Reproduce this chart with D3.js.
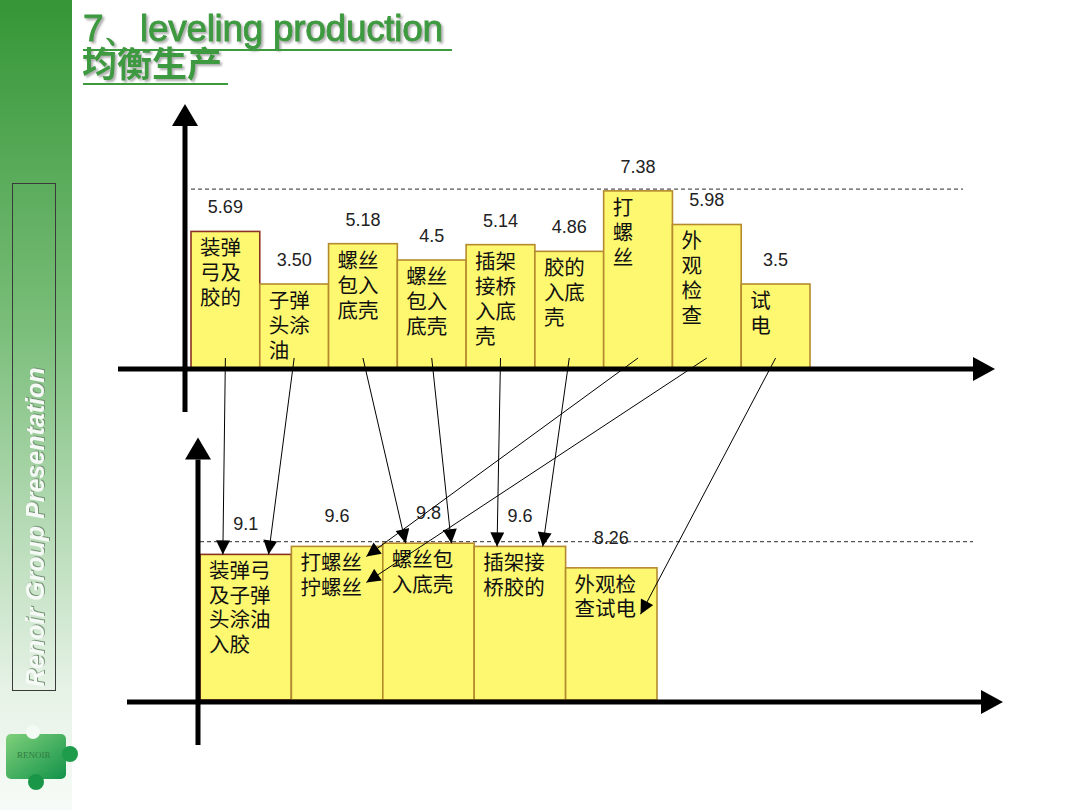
<!DOCTYPE html>
<html>
<head>
<meta charset="utf-8">
<script src="https://cdn.jsdelivr.net/npm/d3@7.9.0/dist/d3.min.js"></script>
<style>
  body { margin: 0; background: #fff; }
  svg { display: block; }
</style>
</head>
<body>
<svg id="chart" width="1080" height="810"></svg>
<script>
// before: one station per step
const topSteps = ['装弹\n弓及\n胶的', '子弹\n头涂\n油', '螺丝\n包入\n底壳', '螺丝\n包入\n底壳', '插架\n接桥\n入底\n壳', '胶的\n入底\n壳', '打\n螺\n丝', '外\n观\n检\n查', '试\n电'];
const topTimes = [5.69, 3.50, 5.18, 4.5, 5.14, 4.86, 7.38, 5.98, 3.5];
const topTimeLabels = ['5.69', '3.50', '5.18', '4.5', '5.14', '4.86', '7.38', '5.98', '3.5'];
const topTakt = 7.45;

// after: merged stations
const bottomSteps = ['装弹弓\n及子弹\n头涂油\n入胶', '打螺丝\n拧螺丝', '螺丝包\n入底壳', '插架接\n桥胶的', '外观检\n查试电'];
const bottomTimes = [9.1, 9.6, 9.8, 9.6, 8.26];
const bottomTimeLabels = ['9.1', '9.6', '9.8', '9.6', '8.26'];
const bottomTakt = 9.9;

// which merged station each old step goes into
const mergeInto = [0, 0, 2, 2, 3, 3, 1, 1, 4];

const svg = d3.select('#chart');
const defs = svg.append('defs');

const side = defs.append('linearGradient').attr('id', 'side').attr('x1', 0).attr('y1', 0).attr('x2', 0).attr('y2', 1);
side.append('stop').attr('offset', '0%').attr('stop-color', '#359636');
side.append('stop').attr('offset', '40%').attr('stop-color', '#79bd79');
side.append('stop').attr('offset', '85%').attr('stop-color', '#e6f2e6');
side.append('stop').attr('offset', '100%').attr('stop-color', '#f7fbf7');

const puzzle = defs.append('linearGradient').attr('id', 'puzzle').attr('x1', 0).attr('y1', 0).attr('x2', 1).attr('y2', 1);
puzzle.append('stop').attr('offset', '0%').attr('stop-color', '#7fd07a');
puzzle.append('stop').attr('offset', '100%').attr('stop-color', '#12924a');

const shadow = defs.append('filter').attr('id', 'shadow').attr('x', '-5%').attr('y', '-20%').attr('width', '115%').attr('height', '150%');
shadow.append('feDropShadow').attr('dx', 2).attr('dy', 2).attr('stdDeviation', 0.8)
  .attr('flood-color', '#9a9a9a').attr('flood-opacity', 0.8);

const sideShadow = defs.append('filter').attr('id', 'sideShadow');
sideShadow.append('feDropShadow').attr('dx', 1).attr('dy', 1).attr('stdDeviation', 0.6)
  .attr('flood-color', '#6f8f6f').attr('flood-opacity', 0.9);

defs.append('marker')
  .attr('id', 'head')
  .attr('viewBox', '0 0 10 10')
  .attr('refX', 10).attr('refY', 5)
  .attr('markerWidth', 15).attr('markerHeight', 14)
  .attr('markerUnits', 'userSpaceOnUse')
  .attr('orient', 'auto')
  .append('path').attr('d', 'M0,0L10,5L0,10Z').attr('fill', '#000');

// left band
svg.append('rect').attr('x', 0).attr('y', 0).attr('width', 72).attr('height', 810).attr('fill', 'url(#side)');
svg.append('rect').attr('x', 12.5).attr('y', 183.5).attr('width', 43).attr('height', 507)
  .attr('fill', 'none').attr('stroke', '#3a3a3a').attr('stroke-width', 1);
svg.append('text')
  .attr('transform', 'translate(44,687) rotate(-90)')
  .attr('font-family', 'Liberation Sans, Arial, sans-serif')
  .attr('font-size', 25).attr('font-style', 'italic').attr('font-weight', 'bold')
  .attr('fill', '#f6faf6').attr('filter', 'url(#sideShadow)')
  .text('Renoir Group Presentation');

const logo = svg.append('g');
logo.append('rect').attr('x', 6).attr('y', 734).attr('width', 60).attr('height', 45).attr('rx', 5).attr('fill', 'url(#puzzle)');
logo.append('circle').attr('cx', 70).attr('cy', 754).attr('r', 8).attr('fill', '#1e9c4c');
logo.append('circle').attr('cx', 36).attr('cy', 782).attr('r', 8).attr('fill', '#1a9648');
logo.append('circle').attr('cx', 33).attr('cy', 732).attr('r', 7).attr('fill', '#f4faf4');
logo.append('text').attr('x', 17).attr('y', 758).attr('font-family', 'Liberation Serif, serif')
  .attr('font-size', 9).attr('fill', '#2f7d3f').text('RENOIR');

// title
const title = svg.append('g').attr('fill', '#3d9a3f').attr('filter', 'url(#shadow)');
title.append('text').attr('x', 83).attr('y', 41)
  .attr('font-family', 'Liberation Sans, Arial, sans-serif').attr('font-size', 37)
  .attr('letter-spacing', -0.3).attr('stroke', '#3d9a3f').attr('stroke-width', 0.9)
  .text('7、leveling production');
title.append('text').attr('x', 82).attr('y', 77).attr('font-size', 35)
  .attr('font-family', 'Noto Sans CJK SC, sans-serif').attr('font-weight', 'bold')
  .text('均衡生产');
svg.append('line').attr('x1', 83).attr('x2', 452).attr('y1', 50).attr('y2', 50).attr('stroke', '#3d9a3f').attr('stroke-width', 2);
svg.append('line').attr('x1', 83).attr('x2', 228).attr('y1', 84).attr('y2', 84).attr('stroke', '#3d9a3f').attr('stroke-width', 2);

// scales
const xTop = d3.scaleBand().domain(d3.range(topTimes.length)).range([191, 810]);
const yTop = d3.scaleLinear().domain([0, 10]).range([368, 128]);
const xBot = d3.scaleBand().domain(d3.range(bottomTimes.length)).range([200, 657]);
const yBot = d3.scaleLinear().domain([0, 10]).range([700, 540]);

function thickArrow(x1, y1, x2, y2, headLen, headW) {
  const len = Math.hypot(x2 - x1, y2 - y1);
  const ux = (x2 - x1) / len, uy = (y2 - y1) / len;
  const bx = x2 - ux * headLen, by = y2 - uy * headLen;
  svg.append('line').attr('x1', x1).attr('y1', y1).attr('x2', bx).attr('y2', by)
    .attr('stroke', '#000').attr('stroke-width', 5);
  svg.append('path')
    .attr('d', `M${x2},${y2}L${bx - uy * headW / 2},${by + ux * headW / 2}L${bx + uy * headW / 2},${by - ux * headW / 2}Z`)
    .attr('fill', '#000');
}

function drawPanel(x, y, times, labels, steps, takt, lineEnd, lineGap, textPad) {
  const g = svg.append('g');
  g.append('line')
    .attr('x1', x.range()[0]).attr('x2', lineEnd)
    .attr('y1', y(takt)).attr('y2', y(takt))
    .attr('stroke', '#555').attr('stroke-width', 1.2).attr('stroke-dasharray', '4,3');

  g.selectAll('rect.bar').data(times).join('rect')
    .attr('class', 'bar')
    .attr('x', (d, i) => x(i))
    .attr('y', d => y(d))
    .attr('width', x.bandwidth())
    .attr('height', d => y(0) - y(d))
    .attr('fill', '#fdf870')
    .attr('stroke', (d, i) => i === 0 ? '#8a3320' : '#b58a2e')
    .attr('stroke-width', 1.6);

  g.selectAll('text.val').data(labels).join('text')
    .attr('class', 'val')
    .attr('x', (d, i) => x(i) + x.bandwidth() / 2)
    .attr('y', (d, i) => y(times[i]) - textPad)
    .attr('text-anchor', 'middle')
    .attr('font-family', 'Liberation Sans, Arial, sans-serif')
    .attr('font-size', 18).attr('fill', '#222')
    .text(d => d);

  steps.forEach((s, i) => {
    const t = g.append('text')
      .attr('font-family', 'Noto Sans CJK SC, sans-serif')
      .attr('font-size', 20.5).attr('fill', '#111');
    s.split('\n').forEach((line, k) => {
      t.append('tspan')
        .attr('x', x(i) + 9)
        .attr('y', y(times[i]) + 24 + k * lineGap)
        .text(line);
    });
  });
}

const topTip = 995, botTip = 1003;
drawPanel(xTop, yTop, topTimes, topTimeLabels, topSteps, topTakt, topTip - 32, 25, 18);
drawPanel(xBot, yBot, bottomTimes, bottomTimeLabels, bottomSteps, bottomTakt, botTip - 30, 24.5, 24);

// axes
thickArrow(185, yTop(0) + 44, 185, yTop(11), 22, 26);
thickArrow(118, yTop(0) + 1, topTip, yTop(0) + 1, 22, 24);
thickArrow(198, yBot(0) + 45, 198, yBot(16.4), 22, 26);
thickArrow(127, yBot(0) + 2, botTip, yBot(0) + 2, 22, 24);

// flow arrows from old steps to merged stations
const bwT = xTop.bandwidth(), bwB = xBot.bandwidth();
const flows = topTimes.map((v, i) => {
  const j = mergeInto[i];
  const sx = xTop(i) + bwT / 2;
  return { i, j, sx, crossing: sx > xBot(j) + bwB * 1.5 };
});
flows.forEach(f => {
  const peers = flows.filter(p => p.j === f.j && p.crossing === f.crossing);
  const k = peers.indexOf(f);
  const top = yBot(bottomTimes[f.j]);
  let ex, ey;
  if (f.crossing) {
    ex = xBot(f.j) + bwB * 0.82;
    ey = top + 10 + 26 * (peers.length === 1 ? 1.4 : k);
  } else {
    ex = peers.length === 1 ? xBot(f.j) + bwB / 2 : xBot(f.j) + bwB * (0.25 + 0.5 * k);
    ey = top;
  }
  svg.append('line')
    .attr('x1', f.sx).attr('y1', yTop(0) - 10)
    .attr('x2', ex).attr('y2', ey)
    .attr('stroke', '#000').attr('stroke-width', 1)
    .attr('marker-end', 'url(#head)');
});
</script>
</body>
</html>
